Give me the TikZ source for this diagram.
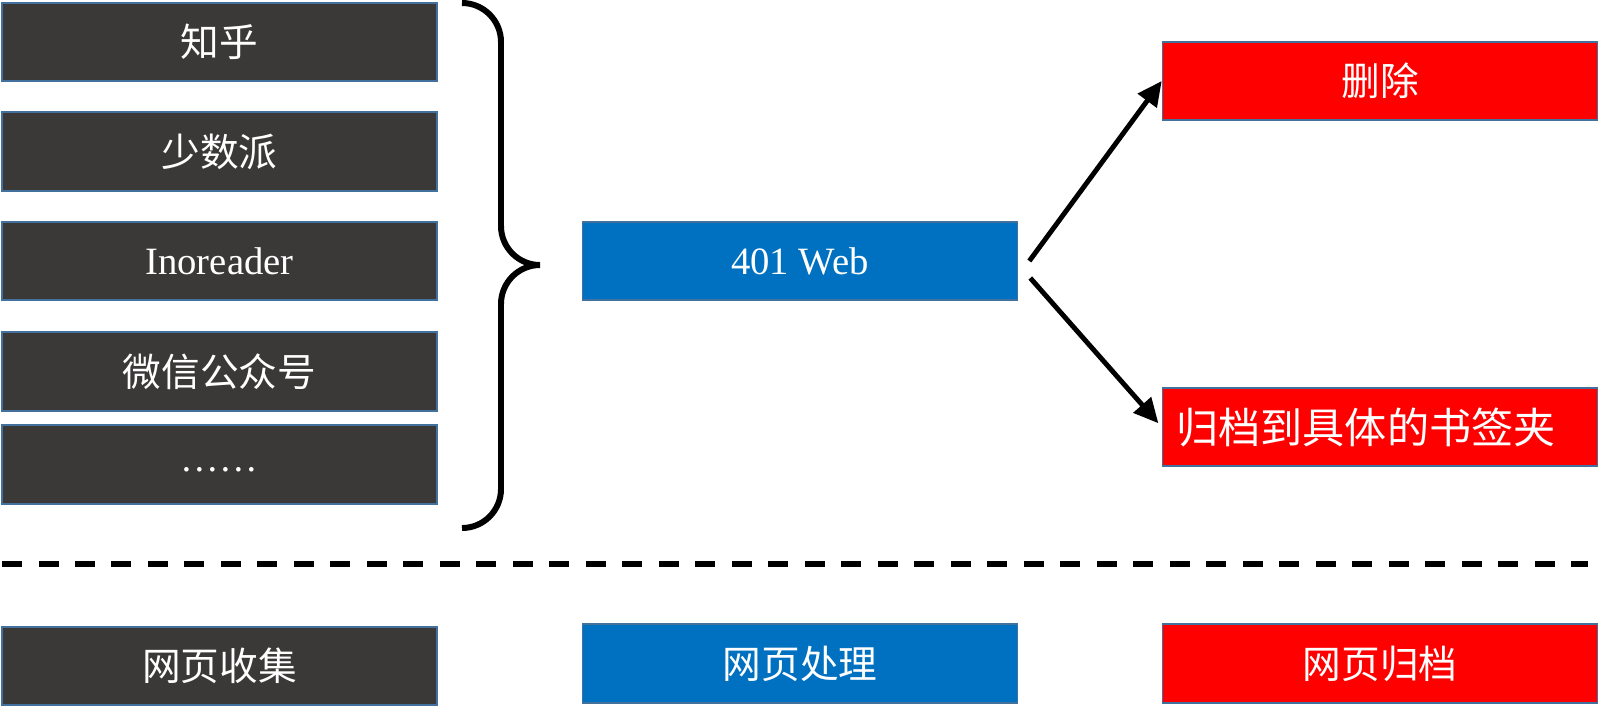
\documentclass[tikz,border=0pt]{standalone}
\usepackage{fontspec}
\setmainfont{Liberation Serif}
\newfontfamily\cjk{Noto Sans CJK SC}
\usetikzlibrary{positioning, calc, arrows.meta}
\definecolor{srcgrey}{HTML}{3B3838}
\definecolor{procblue}{HTML}{0070C0}
\definecolor{arcred}{HTML}{FF0000}
\definecolor{edgeblue}{HTML}{41719C}

\begin{document}
\begin{tikzpicture}[
    box/.style={draw=edgeblue, line width=0.45pt, minimum width=4.35cm, minimum height=0.785cm, inner sep=0pt, text=white, font=\cjk\fontsize{11}{13}\selectfont},
    srcbox/.style={box, fill=srcgrey},
    procbox/.style={box, fill=procblue},
    arcbox/.style={box, fill=arcred},
    latin/.style={font=\fontsize{11}{13}\selectfont},
    dots/.style={latin, text height=0.7em, text depth=0.3em},
    arw/.style={line width=1.4pt, -{Triangle[length=7pt, width=6.5pt]}},
    bracestyle/.style={line width=1.7pt},
    sep/.style={line width=1.7pt, dash pattern=on 0.2cm off 0.165cm}
]
            \useasboundingbox (0,0) rectangle (16,-7.12);

            % Sources
            \node[srcbox] (zhihu) at (2.195,-0.42) {知乎};
            \node[srcbox] (sspai) at (2.195,-1.515) {少数派};
            \node[srcbox, latin] (inoreader) at (2.195,-2.61) {Inoreader};
            \node[srcbox] (wechat) at (2.195,-3.715) {微信公众号};
            \node[srcbox, dots] (more) at (2.195,-4.645) {……};

            % Brace
            \draw[bracestyle] (4.62,-0.03) arc[start angle=90, end angle=0, radius=0.39]
                -- (5.01,-2.26) arc[start angle=180, end angle=270, radius=0.39]
                arc[start angle=90, end angle=180, radius=0.39]
                -- (5.01,-4.89) arc[start angle=0, end angle=-90, radius=0.39];

            % Processing and archiving
            \node[procbox, latin] (web) at (8.00,-2.61) {401 Web};
            \node[arcbox] (del) at (13.80,-0.81) {删除};
            \node[arcbox, font=\cjk\fontsize{12}{14}\selectfont] (arc) at (13.80,-4.27) {归档到具体的书签夹\kern0.28cm};

            % Draw edges
            \draw[arw] ($(web.east)+(0.11,0)$) -- (del.west);
            \draw[arw, shorten >=0.05cm] ($(web.east)+(0.12,-0.17)$) -- (arc.west);

            \draw[sep] (0.02,-5.64) -- (15.88,-5.64);

            % Legend
            \node[srcbox] (collect) at (2.195,-6.66) {网页收集};
            \node[procbox] (process) at (8.00,-6.635) {网页处理};
            \node[arcbox] (archive) at (13.80,-6.635) {网页归档};
        \end{tikzpicture}
\end{document}
